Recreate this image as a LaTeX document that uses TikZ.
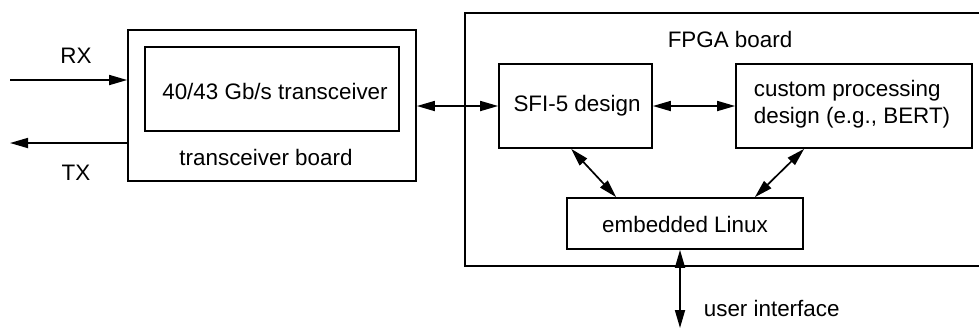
\documentclass[tikz,border=0pt]{standalone}
\usepackage{fontspec}
\setmainfont{Liberation Sans}
\usetikzlibrary{arrows.meta,calc}
\begin{document}
\begin{tikzpicture}[x=0.5pt,y=-0.5pt,
  font=\fontsize{11.2pt}{13.5pt}\selectfont,
  line width=0.85pt,
  blk/.style={draw,rectangle,inner sep=0pt},
  lbl/.style={inner sep=0pt},
  tip/.style={-{Triangle[length=9pt,width=5pt]}},
  dtip/.style={{Triangle[length=9pt,width=5pt]}-{Triangle[length=9pt,width=5pt]}}]
\useasboundingbox (0,0) rectangle (979,329);
\clip (0,0) rectangle (979,329);

% transceiver board with its transceiver
\node[blk,minimum width=144pt,minimum height=75.5pt] (tb) at (272,105.5) {};
\node[blk,minimum width=127pt,minimum height=42pt] (tr) at (272,89) {};
\node[lbl] (trtxt) at (275,91) {40/43 Gb/s transceiver};
\node[lbl] (tbtxt) at (266,157) {transceiver board};

% FPGA board (its right side runs past the page edge)
\node[blk,minimum width=262.5pt,minimum height=126.5pt] (fpga) at (727.5,139.5) {};
\node[lbl] (fpgatxt) at (730,39) {FPGA board};

\node[blk,minimum width=76.5pt,minimum height=42pt] (sfi) at (575.5,106) {};
\node[lbl] (sfitxt) at (577,106) {SFI-5 design};
\node[blk,minimum width=118pt,minimum height=42pt] (cust) at (854,106) {};
\node[lbl,align=left,anchor=west] (custtxt) at (753,104) {custom processing\\design (e.g., BERT)};
\node[blk,minimum width=118pt,minimum height=25.5pt] (lin) at (685,223.5) {};
\node[lbl] (lintxt) at (685,224) {embedded Linux};

% line ends
\coordinate (rx) at (10,80);
\coordinate (tx) at (10,143);
\coordinate (ui) at (680,328);

\node[lbl] (rxtxt) at (76,56) {RX};
\node[lbl] (txtxt) at (76,173) {TX};
\node[lbl,anchor=west] (uitxt) at (703,308) {user interface};

% connectors
\draw[tip] (rx) -- (tb.west |- rx);
\draw[tip] (tb.west |- tx) -- (tx);
\draw[dtip] (tb.east |- sfi.west) -- (sfi.west);
\draw[dtip] (sfi.east) -- (cust.west);
\draw[dtip] ($(sfi.south west)+(73,0)$) -- ($(lin.north west)+(50,0)$);
\draw[dtip] ($(cust.south west)+(69,0)$) -- ($(lin.north east)+(-49,0)$);
\draw[dtip] ($(lin.south)+(-5,0)$) -- (ui);
\end{tikzpicture}
\end{document}
